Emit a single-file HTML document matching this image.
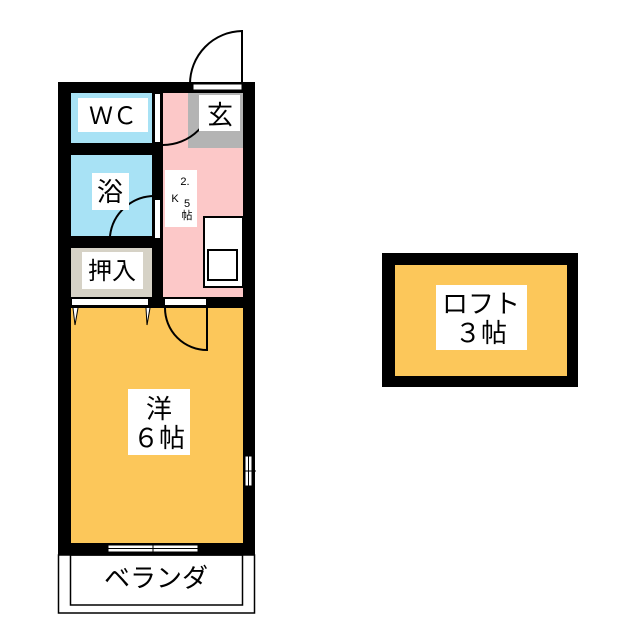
<!DOCTYPE html>
<html><head><meta charset="utf-8"><style>
html,body{margin:0;padding:0;background:#fff;width:640px;height:640px;overflow:hidden}
svg{display:block}
text{font-family:"Liberation Sans","Noto Sans CJK JP",sans-serif;fill:#000}
</style></head><body>
<svg width="640" height="640" viewBox="0 0 640 640">
<!-- outer wall block -->
<rect x="58" y="82" width="197" height="473" fill="#000"/>
<!-- rooms -->
<rect x="71" y="93" width="81" height="50" fill="#a8e2f5"/>
<rect x="71" y="155" width="81" height="81" fill="#a8e2f5"/>
<rect x="71" y="248" width="81" height="49" fill="#d6d2c6"/>
<rect x="163" y="93" width="80" height="204" fill="#fcc8c8"/>
<rect x="188" y="93" width="55" height="55" fill="#b4b4b4"/>
<rect x="71" y="308" width="172" height="235" fill="#fcc75a"/>
<!-- openings -->
<rect x="193" y="84" width="49" height="6" fill="#fff" stroke="#000" stroke-width="1"/>
<rect x="155" y="94" width="5" height="48" fill="#fff"/>
<rect x="155" y="200" width="5" height="38" fill="#fff"/>
<rect x="72" y="299" width="76" height="6" fill="#fff"/>
<rect x="165" y="299" width="41" height="6" fill="#fff"/>
<rect x="108" y="545" width="90" height="7" fill="#fff" stroke="#000" stroke-width="1"/>
<line x1="108" y1="548.5" x2="198" y2="548.5" stroke="#000" stroke-width="1"/>
<line x1="153" y1="543" x2="153" y2="555" stroke="#000" stroke-width="1"/>
<rect x="245" y="456" width="7" height="30" fill="#fff" stroke="#000" stroke-width="1"/>
<line x1="248.5" y1="456" x2="248.5" y2="486" stroke="#000" stroke-width="1"/>
<line x1="243" y1="471" x2="256" y2="471" stroke="#000" stroke-width="1"/>
<!-- doors -->
<path d="M242 84 V31 A53 53 0 0 0 190 84" fill="none" stroke="#000" stroke-width="2"/>
<path d="M213 95 A50 50 0 0 1 163 145" fill="none" stroke="#000" stroke-width="2"/>
<path d="M155 196 A45 45 0 0 0 110 236" fill="none" stroke="#000" stroke-width="2"/>
<path d="M165 308 A42 42 0 0 0 207 350 V308" fill="none" stroke="#000" stroke-width="2"/>
<path d="M73 308 L75 325 L78 308" fill="#fff" stroke="#000" stroke-width="1"/>
<path d="M146 308 L147 325 L150 308" fill="#fff" stroke="#000" stroke-width="1"/>
<!-- sink -->
<rect x="204" y="217" width="39" height="70" fill="#fff" stroke="#000" stroke-width="2"/>
<rect x="208" y="250" width="29" height="30" fill="#fff" stroke="#000" stroke-width="2"/>
<!-- labels -->
<rect x="78" y="98" width="70" height="34" fill="#fff"/>
<text x="113" y="124" font-size="24" text-anchor="middle">ＷＣ</text>
<rect x="199" y="95" width="41" height="36" fill="#fff"/>
<text x="220" y="124" font-size="26" text-anchor="middle">玄</text>
<rect x="92" y="173" width="37" height="37" fill="#fff"/>
<text x="110" y="201" font-size="26" text-anchor="middle">浴</text>
<rect x="82" y="252" width="61" height="37" fill="#fff"/>
<text x="112" y="279" font-size="24" text-anchor="middle">押入</text>
<rect x="165" y="170" width="32" height="57" fill="#fff"/>
<text x="185" y="185" font-size="11" text-anchor="middle">2.</text>
<text x="175" y="202" font-size="11" text-anchor="middle">K</text>
<text x="187" y="207" font-size="11" text-anchor="middle">5</text>
<text x="187" y="219" font-size="11" text-anchor="middle">帖</text>
<rect x="128" y="389" width="62" height="66" fill="#fff"/>
<text x="159" y="418" font-size="26" text-anchor="middle">洋</text>
<text x="159" y="447" font-size="26" text-anchor="middle">６帖</text>
<!-- veranda -->
<rect x="58.5" y="555" width="196" height="58" fill="none" stroke="#000" stroke-width="1.5"/>
<rect x="70.5" y="555" width="172" height="50" fill="none" stroke="#000" stroke-width="1.5"/>
<text x="156" y="587" font-size="26" text-anchor="middle">ベランダ</text>
<!-- loft -->
<rect x="382" y="253" width="196" height="134" fill="#000"/>
<rect x="395" y="265" width="172" height="111" fill="#fcc75a"/>
<rect x="436" y="285" width="91" height="65" fill="#fff"/>
<text x="481" y="313" font-size="26" text-anchor="middle">ロフト</text>
<text x="481" y="342" font-size="26" text-anchor="middle">３帖</text>
</svg>
</body></html>
